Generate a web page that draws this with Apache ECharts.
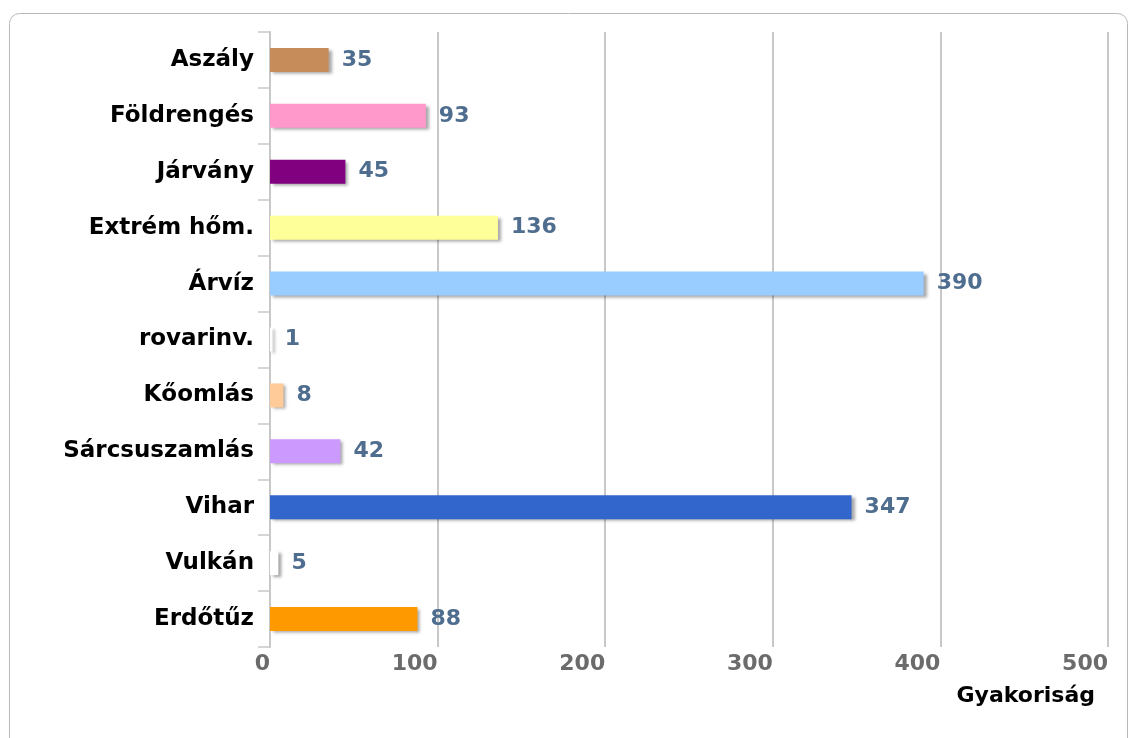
<!DOCTYPE html>
<html>
<head>
<meta charset="utf-8">
<script src="https://cdn.jsdelivr.net/npm/echarts@6/dist/echarts.min.js"></script>
<style>
html,body{margin:0;padding:0;background:#fff;}
#chart{width:1129px;height:738px;}
</style>
</head>
<body>
<div id="chart"></div>
<script>
const categories = ['Aszály','Földrengés','Járvány','Extrém hőm.','Árvíz','rovarinv.','Kőomlás','Sárcsuszamlás','Vihar','Vulkán','Erdőtűz'];
const values = [35, 93, 45, 136, 390, 1, 8, 42, 347, 5, 88];
const barColors = ['#c68c5a','#ff99cc','#800080','#ffff99','#99ccff','#ffffff','#ffcc99','#cc99ff','#3366cc','#ffffff','#ff9900'];
const xTicks = [0, 100, 200, 300, 400, 500];
const axisName = 'Gyakoriság';

const chart = echarts.init(document.getElementById('chart'));
chart.setOption({
  backgroundColor: '#ffffff',
  animation: false,
  graphic: [{
    type: 'rect',
    shape: { x: 9.5, y: 13.5, width: 1118, height: 760, r: 10 },
    style: { fill: 'none', stroke: '#b8b8b8', lineWidth: 1 },
    silent: true
  }],
  grid: { left: 270, right: 21, top: 32, bottom: 91, containLabel: false },
  xAxis: {
    type: 'value',
    min: xTicks[0],
    max: xTicks[xTicks.length - 1],
    interval: 100,
    axisLine: { show: false },
    axisTick: { show: false },
    splitLine: { show: true, lineStyle: { color: '#c8c8c8', width: 2 } },
    axisLabel: {
      align: 'right',
      margin: 6,
      color: '#6b6b6b',
      fontFamily: 'DejaVu Sans',
      fontWeight: 'bold',
      fontSize: 22
    },
    name: axisName,
    nameLocation: 'end',
    nameGap: -13,
    nameTextStyle: {
      align: 'right',
      verticalAlign: 'top',
      padding: [38, 0, 0, 0],
      color: '#000',
      fontFamily: 'DejaVu Sans',
      fontWeight: 'bold',
      fontSize: 22
    }
  },
  yAxis: {
    type: 'category',
    data: categories,
    inverse: true,
    axisLine: { show: true, lineStyle: { color: '#c8c8c8', width: 2 } },
    axisTick: { show: true, length: 12, lineStyle: { color: '#c8c8c8', width: 1.5 } },
    axisLabel: {
      margin: 16,
      color: '#000',
      fontFamily: 'DejaVu Sans',
      fontWeight: 'bold',
      fontSize: 23
    },
    splitLine: { show: false }
  },
  series: [{
    type: 'bar',
    data: values.map((v, i) => ({ value: v, itemStyle: { color: barColors[i] } })),
    barWidth: 24,
    itemStyle: {
      shadowColor: 'rgba(0,0,0,0.35)',
      shadowBlur: 3,
      shadowOffsetX: 3,
      shadowOffsetY: 2
    },
    label: {
      show: true,
      position: 'right',
      distance: 13,
      color: '#4f6d8f',
      fontFamily: 'DejaVu Sans',
      fontWeight: 'bold',
      fontSize: 22
    }
  }]
});
</script>
</body>
</html>
